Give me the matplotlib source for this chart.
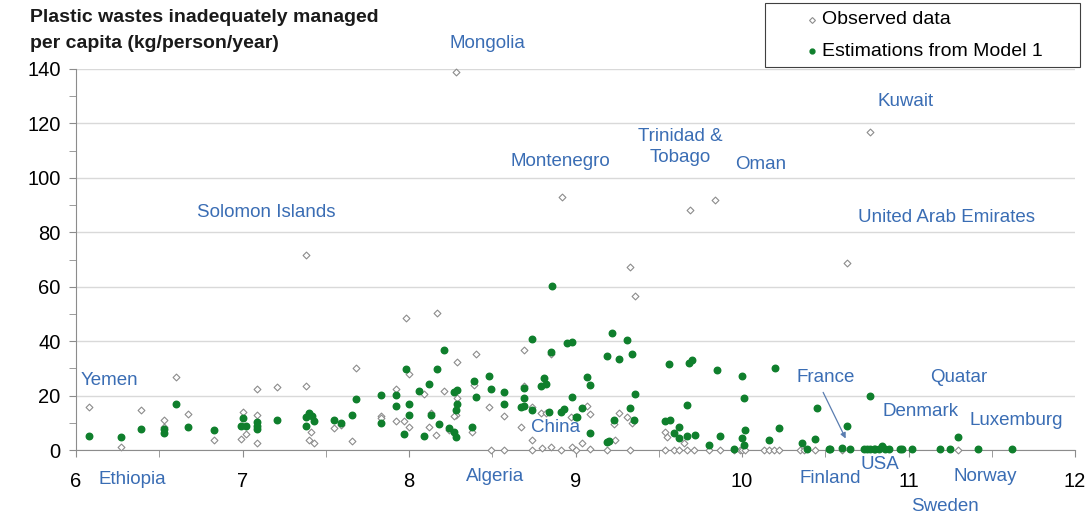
import numpy as np
import matplotlib.pyplot as plt
from matplotlib.ticker import MultipleLocator
from matplotlib.patches import Rectangle
from matplotlib.lines import Line2D

plt.rcParams['font.family'] = ['Liberation Sans', 'DejaVu Sans']

# observed data: log GDP per capita (x) vs waste (y)
obs_x = [6.08, 6.27, 6.39, 6.53, 6.53, 6.60, 6.67, 6.83, 6.99, 7.00, 7.02, 7.09, 7.09, 7.09,
         7.21, 7.38, 7.38, 7.41, 7.40, 7.43, 7.55, 7.59, 7.66, 7.68, 7.83, 7.83, 7.92, 7.92,
         7.97, 7.98, 8.00, 8.00, 8.09, 8.13, 8.12, 8.17, 8.21, 8.16, 8.29, 8.29, 8.28, 8.27,
         8.24, 8.28, 8.40, 8.39, 8.38, 8.48, 8.49, 8.57, 8.57, 8.69, 8.69, 8.74, 8.67, 8.74,
         8.79, 8.82, 8.80, 8.85, 8.85, 8.92, 8.97, 8.91, 8.98, 9.00, 9.04, 9.07, 9.09, 9.09,
         9.26, 9.31, 9.34, 9.23, 9.24, 9.19, 9.33, 9.33, 9.36, 9.54, 9.55, 9.65, 9.54, 9.59,
         9.62, 9.67, 9.71, 9.69, 9.84, 9.80, 9.87, 9.95, 9.99, 10.00, 10.02, 10.13, 10.16,
         10.19, 10.22, 10.35, 10.37, 10.44, 10.60, 10.63, 10.77, 11.30, 8.74]
obs_y = [15.8, 1.2, 14.7, 11.0, 8.6, 27.0, 13.1, 3.7, 4.0, 14.1, 5.9, 22.3, 12.9, 2.5,
         23.0, 23.6, 71.7, 6.7, 3.7, 2.7, 8.2, 9.1, 3.3, 30.0, 12.5, 11.9, 22.3, 10.5,
         10.5, 48.6, 27.9, 8.6, 20.5, 13.5, 8.6, 50.2, 21.6, 5.6, 32.5, 19.2, 13.0, 12.5,
         7.4, 139.0, 35.3, 24.0, 6.7, 15.9, 0, 12.5, 0, 36.9, 23.6, 15.9, 8.3, 3.6,
         13.6, 13.6, 0.8, 1.2, 35.3, 93.0, 12.3, 0, 1.2, 0, 2.7, 16.3, 13.3, 0.4,
         13.6, 12.1, 10.0, 9.4, 3.6, 0, 0, 67.2, 56.7, 6.7, 4.9, 2.7, 0, 0,
         0, 0, 0, 88.2, 91.9, 0, 0, 0, 0, 0, 0, 0, 0,
         0, 0, 0, 0, 0, 0, 68.8, 116.9, 0, 0]

# estimations from model 1
est_x = [6.08, 6.27, 6.39, 6.53, 6.53, 6.60, 6.67, 6.83, 6.99, 7.00, 7.02, 7.09, 7.09, 7.09,
         7.21, 7.40, 7.38, 7.42, 7.43, 7.38, 7.55, 7.59, 7.66, 7.68, 7.83, 7.83, 7.92, 7.92,
         7.97, 7.98, 8.00, 8.00, 8.06, 8.12, 8.13, 8.09, 8.17, 8.21, 8.18, 8.27, 8.29, 8.29,
         8.28, 8.24, 8.27, 8.28, 8.39, 8.40, 8.38, 8.48, 8.49, 8.57, 8.57, 8.86, 8.74, 8.69,
         8.69, 8.67, 8.69, 8.74, 8.81, 8.79, 8.82, 8.84, 8.85, 8.95, 8.98, 8.98, 8.91, 8.93,
         9.00, 9.22, 9.31, 9.19, 9.26, 9.34, 9.07, 9.09, 9.36, 9.01, 9.04, 9.09, 9.33, 9.23,
         9.35, 9.19, 9.20, 9.56, 9.68, 9.70, 9.67, 9.54, 9.57, 9.59, 9.62, 9.62, 9.67, 9.72,
         9.85, 9.80, 9.87, 10.00, 10.01, 10.02, 10.00, 10.01, 9.95, 10.20, 10.22, 10.16,
         10.36, 10.39, 10.44, 10.45, 10.52, 10.53, 10.60, 10.65, 10.63, 10.77, 10.73, 10.75,
         10.77, 10.79, 10.80, 10.82, 10.84, 10.86, 10.88, 10.95, 10.96, 11.02, 11.19, 11.25,
         11.30, 11.42, 11.62]
est_y = [5.1, 4.9, 7.6, 7.7, 6.2, 16.9, 8.3, 7.4, 8.8, 11.9, 8.8, 10.4, 8.8, 7.8,
         11.1, 13.7, 12.0, 12.4, 10.5, 8.8, 11.0, 10.0, 12.7, 18.6, 10.0, 20.2, 20.3, 16.3,
         6.0, 29.8, 16.8, 12.9, 21.7, 24.3, 12.9, 5.0, 29.7, 36.8, 9.4, 21.3, 21.9, 17.0,
         14.7, 8.0, 6.7, 4.9, 25.4, 19.6, 8.3, 27.1, 22.4, 21.2, 16.8, 60.2, 40.8, 22.7,
         19.0, 15.8, 16.1, 14.6, 26.6, 23.4, 24.3, 13.9, 36.1, 39.2, 39.7, 19.5, 13.9, 15.2,
         12.1, 42.9, 40.3, 34.6, 33.6, 35.2, 26.8, 24.0, 20.5, 12.3, 15.3, 6.2, 15.6, 10.9,
         11.1, 3.1, 3.3, 31.5, 32.0, 33.1, 16.5, 10.5, 11.0, 6.1, 8.6, 4.4, 5.3, 5.5,
         29.4, 1.9, 5.3, 27.1, 19.2, 7.5, 4.4, 1.8, 0.5, 30.0, 8.1, 3.7,
         2.5, 0.5, 3.9, 15.6, 0.3, 0.3, 0.7, 0.5, 8.9, 19.9, 0.3, 0.3,
         0.3, 0.5, 0.3, 0.5, 1.5, 0.5, 0.3, 0.3, 0.3, 0.3, 0.3, 0.3,
         4.7, 0.3, 0.3]

# country labels
names = ['Mongolia', 'Montenegro', 'Trinidad &\nTobago', 'Oman', 'Kuwait',
         'United Arab Emirates', 'Solomon Islands', 'Yemen', 'Ethiopia', 'Algeria',
         'China', 'France', 'Quatar', 'Denmark', 'Luxemburg', 'USA', 'Finland',
         'Norway', 'Sweden']
name_x = [8.47, 8.91, 9.63, 10.11, 10.98, 11.23, 7.14, 6.20, 6.34, 8.52,
          8.88, 10.50, 11.30, 11.07, 11.65, 10.83, 10.53, 11.46, 11.22]
name_y = [149.3, 105.9, 111.4, 104.8, 127.9, 85.3, 87.1, 25.7, -11.0, -9.6,
          8.1, 26.5, 26.5, 14.0, 11.0, -5.5, -10.3, -9.9, -20.6]

title_lines = ['Plastic wastes inadequately managed', 'per capita (kg/person/year)']
legend_labels = ['Observed data', 'Estimations from Model 1']

blue = '#3a6db4'
green = '#0f7f2c'
W, H = 1087, 515

fig = plt.figure(figsize=(10.87, 5.15), dpi=100)
ax = fig.add_axes([76/W, 1-450/H, (1075-76)/W, (450-69)/H])

ax.scatter(obs_x, obs_y, marker='D', s=12, facecolor='white', edgecolor='#8c8c8c',
           linewidth=0.8, clip_on=False, zorder=3)
ax.scatter(est_x, est_y, marker='o', s=22, color=green, clip_on=False, zorder=4)

for n, x, y in zip(names, name_x, name_y):
    ax.text(x, y, n, color=blue, fontsize=13.5, ha='center', va='center',
            clip_on=False, linespacing=1.3)

ax.annotate('', xy=(10.63, 3.3), xytext=(10.48, 22.1),
            arrowprops=dict(arrowstyle='-|>', color='#5a7db0', lw=0.9,
                            mutation_scale=8))

ax.set_xlim(6, 12)
ax.set_ylim(0, 140)
ax.xaxis.set_major_locator(MultipleLocator(1))
ax.xaxis.set_minor_locator(MultipleLocator(0.5))
ax.yaxis.set_major_locator(MultipleLocator(20))
ax.yaxis.set_minor_locator(MultipleLocator(10))
ax.grid(axis='y', color='#d9d9d9', linewidth=1)
ax.set_axisbelow(True)
for s in ['top', 'right']:
    ax.spines[s].set_visible(False)
for s in ['left', 'bottom']:
    ax.spines[s].set_color('#8c8c8c')
ax.tick_params(which='both', color='#8c8c8c', labelsize=14.5, length=5)
ax.tick_params(axis='x', which='major', pad=11)
ax.tick_params(axis='y', which='major', pad=6)

# axis title, two lines placed one by one
for line, ypx in zip(title_lines, [18, 44]):
    fig.text(30/W, 1-ypx/H, line, fontsize=14, fontweight='bold', color='#1a1a1a',
             ha='left', va='center')

# legend box drawn by hand to keep the wide left margin of the original
fig.add_artist(Rectangle((765/W, 1-67/H), (1080-765)/W, 64/H, transform=fig.transFigure,
                         facecolor='white', edgecolor='#404040', linewidth=0.8))
fig.add_artist(Line2D([812/W], [1-20/H], transform=fig.transFigure, marker='D',
                      markersize=3, markerfacecolor='white', markeredgecolor='#8c8c8c',
                      markeredgewidth=0.8, linestyle='none'))
fig.add_artist(Line2D([812/W], [1-51/H], transform=fig.transFigure, marker='o',
                      markersize=3.5, color=green, linestyle='none'))
fig.text(822/W, 1-20/H, legend_labels[0], fontsize=14, ha='left', va='center')
fig.text(822/W, 1-51/H, legend_labels[1], fontsize=14, ha='left', va='center')

plt.savefig('out.png', dpi=100)
